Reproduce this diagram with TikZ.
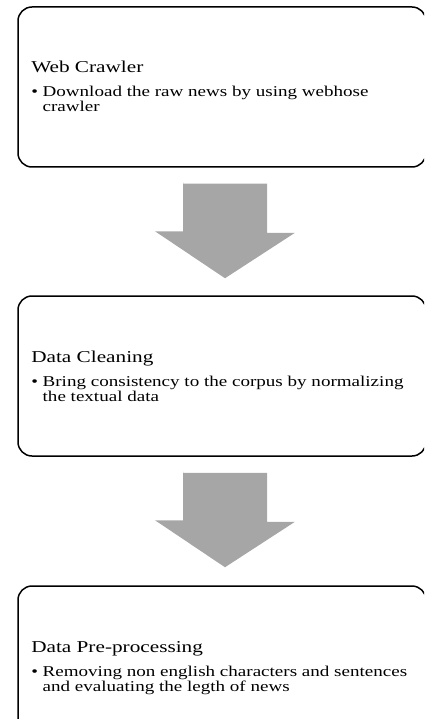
\documentclass[tikz,border=0pt]{standalone}
\usepackage{fontspec}
\setmainfont{Liberation Serif}
\usetikzlibrary{calc}
\definecolor{arrowgray}{RGB}{166,166,166}

\begin{document}
\begin{tikzpicture}[x=1pt, y=-1pt,
	stagebox/.style={draw=black, line width=1.5pt, rounded corners=14pt,
		minimum width=408pt, minimum height=160pt, inner sep=0pt},
	stagetitle/.style={anchor=base west, inner sep=0pt, xscale=1.28, transform shape,
		font=\fontsize{16.6}{17}\selectfont},
	stageitem/.style={anchor=base west, inner sep=0pt, xscale=1.27, transform shape,
		align=left, font=\fontsize{15}{15}\selectfont},
	flowarrow/.style={fill=arrowgray}]
% page frame
	\useasboundingbox (0,0) rectangle (424,719);
	\clip (0,0) rectangle (424,719);

% stage boxes
	\node[stagebox] (crawler) at (222,87) {};
	\node[stagebox] (cleaning) at (222,376) {};
	\node[stagebox] (preproc) at (222,666) {};

% stage texts (items sit on the baseline of their last line)
	\node[stagetitle] (crawlertitle) at (31,73) {Web Crawler};
	\node[stageitem] (crawleritem) at (31,111.7)
		{\textbullet\ Download the raw news by using webhose\\\hphantom{\textbullet\ }crawler};

	\node[stagetitle] (cleaningtitle) at (31,362) {Data Cleaning};
	\node[stageitem] (cleaningitem) at (31,401.7)
		{\textbullet\ Bring consistency to the corpus by normalizing\\\hphantom{\textbullet\ }the textual data};

	\node[stagetitle] (preproctitle) at (31,652) {Data Pre-processing};
	\node[stageitem] (preprocitem) at (31,691.7)
		{\textbullet\ Removing non english characters and sentences\\\hphantom{\textbullet\ }and evaluating the legth of news};

% block arrows between the boxes
	\coordinate (a1) at ($(crawler.south)+(3,16)$);
	\coordinate (b1) at ($(cleaning.north)+(3,-17)$);
	\fill[flowarrow] (a1) ++(-42,0) -- ++(84,0) -- ++(0,49) -- ++(28,0)
		-- (b1) -- ++(-70,-47) -- ++(28,0) -- ++(0,-49) -- cycle;

	\coordinate (a2) at ($(cleaning.south)+(3,16)$);
	\coordinate (b2) at ($(preproc.north)+(3,-18)$);
	\fill[flowarrow] (a2) ++(-42,0) -- ++(84,0) -- ++(0,49) -- ++(28,0)
		-- (b2) -- ++(-70,-47) -- ++(28,0) -- ++(0,-49) -- cycle;

\end{tikzpicture}
\end{document}
